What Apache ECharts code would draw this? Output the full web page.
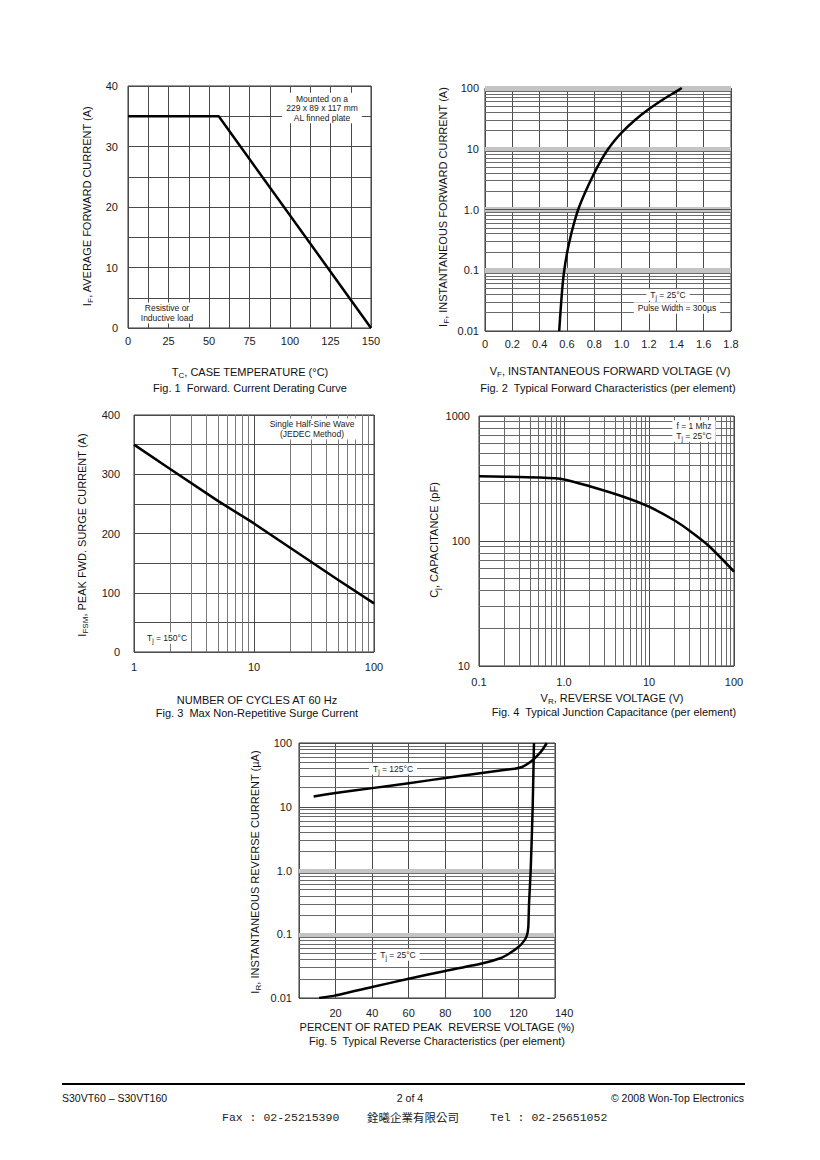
<!DOCTYPE html>
<html><head><meta charset="utf-8">
<script src="https://cdn.jsdelivr.net/npm/echarts@6/dist/echarts.min.js"></script>
<style>html,body{margin:0;padding:0;background:#fff}#c{width:820px;height:1160px}</style>
</head><body><div id="c"></div>
<script>
// ---------- Fig. 1 Forward current derating ----------
const fig1Temp = [0, 56, 150];
const fig1Current = [35, 35, 0];
const fig1XLabels = ['0', '25', '50', '75', '100', '125', '150'];
const fig1YLabels = ['0', '10', '20', '30', '40'];
// ---------- Fig. 2 Forward characteristics ----------
const fig2Voltage = [0.543, 0.555, 0.567, 0.58, 0.60, 0.625, 0.65, 0.682, 0.73, 0.79, 0.85, 0.90, 0.95, 1.0, 1.1, 1.2, 1.3, 1.4, 1.44];
const fig2Current = [0.01, 0.025, 0.055, 0.1, 0.19, 0.35, 0.58, 1.0, 1.85, 3.6, 6.5, 9.8, 13.8, 18.5, 30, 45, 64, 88, 100];
const fig2XLabels = ['0', '0.2', '0.4', '0.6', '0.8', '1.0', '1.2', '1.4', '1.6', '1.8'];
const fig2YLabels = ['0.01', '0.1', '1.0', '10', '100'];
// ---------- Fig. 3 Surge current ----------
const fig3Cycles = [1, 2, 5, 10, 20, 50, 100];
const fig3Current = [350, 309, 255, 217, 176, 122, 82];
const fig3XLabels = ['1', '10', '100'];
const fig3YLabels = ['0', '100', '200', '300', '400'];
// ---------- Fig. 4 Junction capacitance ----------
const fig4Voltage = [0.1, 0.2, 0.5, 1, 2, 5, 10, 20, 30, 50, 100];
const fig4Cap = [329, 327, 322, 311, 274, 226, 188, 146, 121, 92, 57];
const fig4XLabels = ['0.1', '1.0', '10', '100'];
const fig4YLabels = ['10', '100', '1000'];
// ---------- Fig. 5 Reverse characteristics ----------
const fig5T125Pct = [8, 20, 40, 60, 80, 100, 110, 118, 122, 125.5, 129, 132.5, 135.5];
const fig5T125Current = [14.5, 16.4, 19.6, 23.4, 28.2, 33.7, 37, 39.5, 42, 48, 58, 74, 100];
const fig5T25Pct = [11, 20, 40, 60, 80, 100, 110, 115, 120, 123, 124.6, 125.4, 125.8, 126.7, 127.8, 128.5];
const fig5T25Current = [0.01, 0.011, 0.0149, 0.020, 0.0266, 0.0347, 0.042, 0.05, 0.063, 0.078, 0.095, 0.13, 0.3, 1.0, 10, 100];
const fig5XLabels = ['', '20', '40', '60', '80', '100', '120', '140'];
const fig5YLabels = ['0.01', '0.1', '1.0', '10', '100'];
// minor log grid steps inside a decade
const logSteps = [2, 3, 4, 5, 6, 7, 8, 9];

const FONT = '"Liberation Sans", Arial, sans-serif';
const GRID_DARK = '#4a4a4a';
const GRID_MINOR = '#6a6a6a';

function zip(a, b) { return a.map((v, i) => [v, b[i]]); }
function minorLog(decades) {
  const out = [];
  decades.forEach(d => logSteps.forEach(s => out.push(+(s * d).toPrecision(6))));
  return out;
}
function valFmt(labels, min, interval) {
  return v => labels[Math.round((v - min) / interval)] || '';
}
function logFmt(labels, minExp) {
  return v => labels[Math.round(Math.log10(v)) - minExp] || '';
}
function axis(type, opt, labelOpt) {
  return Object.assign({
    type: type,
    axisLine: { show: false }, axisTick: { show: false },
    axisLabel: Object.assign({ color: '#1a1a1a', fontFamily: FONT, fontSize: 11 }, labelOpt),
    splitLine: { show: true, lineStyle: { color: GRID_DARK, width: 1 } }
  }, opt);
}
function linesSeries(idx, key, values, color, width, z) {
  return {
    type: 'line', xAxisIndex: idx, yAxisIndex: idx, data: [], silent: true, z: z,
    markLine: {
      silent: true, symbol: ['none', 'none'], label: { show: false }, animation: false, z: z,
      lineStyle: { color: color, width: width, type: 'solid', opacity: 1 },
      emphasis: { disabled: true },
      data: values.map(v => ({ [key]: v }))
    }
  };
}
function curve(idx, data, smooth) {
  return {
    type: 'line', xAxisIndex: idx, yAxisIndex: idx, data: data, showSymbol: false,
    smooth: smooth || false, z: 20, silent: true,
    lineStyle: { color: '#000', width: 2.5, join: 'round' }, animation: false
  };
}

const sub = { m: { fontSize: 11, fontFamily: FONT, fill: '#111' }, s: { fontSize: 8, fontFamily: FONT, fill: '#111', padding: [6, 0, 0, 0] } };
function txt(x, y, text, opt) {
  return Object.assign({
    type: 'text', x: x, y: y, silent: true,
    style: Object.assign({ text: text, align: 'center', verticalAlign: 'middle', fontSize: 11, fontFamily: FONT, fill: '#111', rich: sub }, opt || {})
  });
}
function vtxt(x, y, text) {
  const t = txt(x, y, text);
  t.rotation = Math.PI / 2;
  return t;
}
const noteRich = { a: { fontSize: 8.5, fontFamily: FONT, fill: '#222' }, b: { fontSize: 6.5, fontFamily: FONT, fill: '#222', padding: [5, 0, 0, 0] } };
function note(x, y, text, lh) {
  return {
    type: 'text', x: x, y: y, silent: true, z: 50,
    style: { text: text, align: 'center', verticalAlign: 'middle', fontSize: 8.5, lineHeight: lh || 9.5, fontFamily: FONT, fill: '#222', backgroundColor: '#fff', padding: [1, 4, 1, 4], rich: noteRich }
  };
}

const chart = echarts.init(document.getElementById('c'), null, { renderer: 'svg', width: 820, height: 1160 });

const gridBase = { show: true, borderColor: '#333', borderWidth: 1, backgroundColor: 'transparent', containLabel: false, outerBoundsMode: 'none' };

const option = {
  backgroundColor: '#fff',
  animation: false,
  grid: [
    Object.assign({ left: 128, top: 86, width: 243, height: 242 }, gridBase),
    Object.assign({ left: 485, top: 88, width: 246, height: 243 }, gridBase),
    Object.assign({ left: 134, top: 415, width: 240, height: 237 }, gridBase),
    Object.assign({ left: 479, top: 416, width: 255, height: 250 }, gridBase),
    Object.assign({ left: 299, top: 743, width: 256, height: 255 }, gridBase)
  ],
  xAxis: [
    axis('value', { gridIndex: 0, min: 0, max: 150, interval: 25, minorTick: { show: false, splitNumber: 2 }, minorSplitLine: { show: true, lineStyle: { color: GRID_DARK, width: 1 } } },
      { margin: 7, formatter: valFmt(fig1XLabels, 0, 25) }),
    axis('value', { gridIndex: 1, min: 0, max: 1.8, interval: 0.2 }, { margin: 7, formatter: valFmt(fig2XLabels, 0, 0.2) }),
    axis('log', { gridIndex: 2, min: 1, max: 100, logBase: 10 }, { margin: 9, formatter: logFmt(fig3XLabels, 0) }),
    axis('log', { gridIndex: 3, min: 0.1, max: 100, logBase: 10 }, { margin: 10, formatter: logFmt(fig4XLabels, -1) }),
    axis('value', { gridIndex: 4, min: 0, max: 140, interval: 20 }, { margin: 9, alignMaxLabel: 'left', formatter: valFmt(fig5XLabels, 0, 20) })
  ],
  yAxis: [
    axis('value', { gridIndex: 0, min: 0, max: 40, interval: 10, minorTick: { show: false, splitNumber: 2 }, minorSplitLine: { show: true, lineStyle: { color: GRID_DARK, width: 1 } } },
      { margin: 10, formatter: valFmt(fig1YLabels, 0, 10) }),
    axis('log', { gridIndex: 1, min: 0.01, max: 100, logBase: 10 }, { margin: 6, formatter: logFmt(fig2YLabels, -2) }),
    axis('value', { gridIndex: 2, min: 0, max: 400, interval: 100, minorTick: { show: false, splitNumber: 2 }, minorSplitLine: { show: true, lineStyle: { color: GRID_DARK, width: 1 } } },
      { margin: 14, formatter: valFmt(fig3YLabels, 0, 100) }),
    axis('log', { gridIndex: 3, min: 10, max: 1000, logBase: 10 }, { margin: 9, formatter: logFmt(fig4YLabels, 1) }),
    axis('log', { gridIndex: 4, min: 0.01, max: 100, logBase: 10 }, { margin: 7, formatter: logFmt(fig5YLabels, -2) })
  ],
  series: [
    // Fig 1
    curve(0, zip(fig1Temp, fig1Current), false),
    // Fig 2
    linesSeries(1, 'yAxis', [0.1, 1, 10, 100], '#c4c4c4', 5, 2),
    linesSeries(1, 'yAxis', minorLog([0.01, 0.1, 1, 10]), GRID_MINOR, 1, 3),
    linesSeries(1, 'yAxis', [1], '#555', 1, 4),
    curve(1, zip(fig2Voltage, fig2Current), 0.25),
    // Fig 3
    linesSeries(2, 'xAxis', minorLog([1, 10]), '#7a7a7a', 1, 3),
    curve(2, zip(fig3Cycles, fig3Current), false),
    // Fig 4
    linesSeries(3, 'xAxis', minorLog([0.1, 1, 10]), GRID_MINOR, 1, 3),
    linesSeries(3, 'yAxis', minorLog([10, 100]), GRID_MINOR, 1, 3),
    curve(3, zip(fig4Voltage, fig4Cap), 0.25),
    // Fig 5
    linesSeries(4, 'yAxis', [0.1, 1], '#c4c4c4', 4, 2),
    linesSeries(4, 'yAxis', minorLog([0.01, 0.1, 1, 10]), GRID_MINOR, 1, 3),
    curve(4, zip(fig5T125Pct, fig5T125Current), 0.25),
    curve(4, zip(fig5T25Pct, fig5T25Current), 0.2)
  ],
  graphic: [
    // Fig 1 texts
    vtxt(87, 206, '{m|I}{s|F}{m|, AVERAGE FORWARD CURRENT (A)}'),
    txt(250, 372, '{m|T}{s|C}{m|, CASE TEMPERATURE (°C)}'),
    txt(250, 388, 'Fig. 1  Forward. Current Derating Curve'),
    note(322, 108, 'Mounted on a\n229 x 89 x 117 mm\nAL finned plate'),
    note(167, 313, 'Resistive or\nInductive load'),
    // Fig 2 texts
    vtxt(443, 207, '{m|I}{s|F}{m|, INSTANTANEOUS FORWARD CURRENT (A)}'),
    txt(610, 371, '{m|V}{s|F}{m|, INSTANTANEOUS FORWARD VOLTAGE (V)}'),
    txt(608, 388, 'Fig. 2  Typical Forward Characteristics (per element)'),
    note(668, 295, '{a|T}{b|j}{a| = 25°C}'),
    note(677, 308, 'Pulse Width = 300µs'),
    // Fig 3 texts
    vtxt(82, 535, '{m|I}{s|FSM}{m|, PEAK FWD. SURGE CURRENT (A)}'),
    txt(257, 700, 'NUMBER OF CYCLES AT 60 Hz'),
    txt(257, 713, 'Fig. 3  Max Non-Repetitive Surge Current'),
    note(312, 429, 'Single Half-Sine Wave\n(JEDEC Method)'),
    note(167, 638, '{a|T}{b|j}{a| = 150°C}'),
    // Fig 4 texts
    vtxt(434, 540, '{m|C}{s|j}{m|, CAPACITANCE (pF)}'),
    txt(612, 698, '{m|V}{s|R}{m|, REVERSE VOLTAGE (V)}'),
    txt(614, 712, 'Fig. 4  Typical Junction Capacitance (per element)'),
    note(694, 426, 'f = 1 Mhz'),
    note(694, 436, '{a|T}{b|j}{a| = 25°C}'),
    // Fig 5 texts
    vtxt(255, 872, '{m|I}{s|R}{m|, INSTANTANEOUS REVERSE CURRENT (µA)}'),
    txt(437, 1027, 'PERCENT OF RATED PEAK  REVERSE VOLTAGE (%)'),
    txt(437, 1041, 'Fig. 5  Typical Reverse Characteristics (per element)'),
    note(393, 769, '{a|T}{b|j}{a| = 125°C}'),
    note(398, 955, '{a|T}{b|j}{a| = 25°C}'),
    // Footer
    { type: 'line', silent: true, shape: { x1: 62, y1: 1084, x2: 745, y2: 1084 }, style: { stroke: '#000', lineWidth: 2 } },
    txt(62, 1098, 'S30VT60 – S30VT160', { align: 'left', fontSize: 10.5 }),
    txt(410, 1098, '2 of 4', { fontSize: 10.5 }),
    txt(744, 1098, '© 2008 Won-Top Electronics', { align: 'right', fontSize: 10.5 }),
    txt(222, 1117, 'Fax : 02-25215390', { align: 'left', fontSize: 11.5, fontFamily: '"Liberation Mono", monospace', fill: '#222' }),
    txt(367, 1117, '銓曦企業有限公司', { align: 'left', fontSize: 11.5, fontFamily: '"Noto Sans CJK TC", sans-serif', fill: '#222' }),
    txt(490, 1117, 'Tel : 02-25651052', { align: 'left', fontSize: 11.5, fontFamily: '"Liberation Mono", monospace', fill: '#222' })
  ]
};
chart.setOption(option);
</script>
</body></html>
